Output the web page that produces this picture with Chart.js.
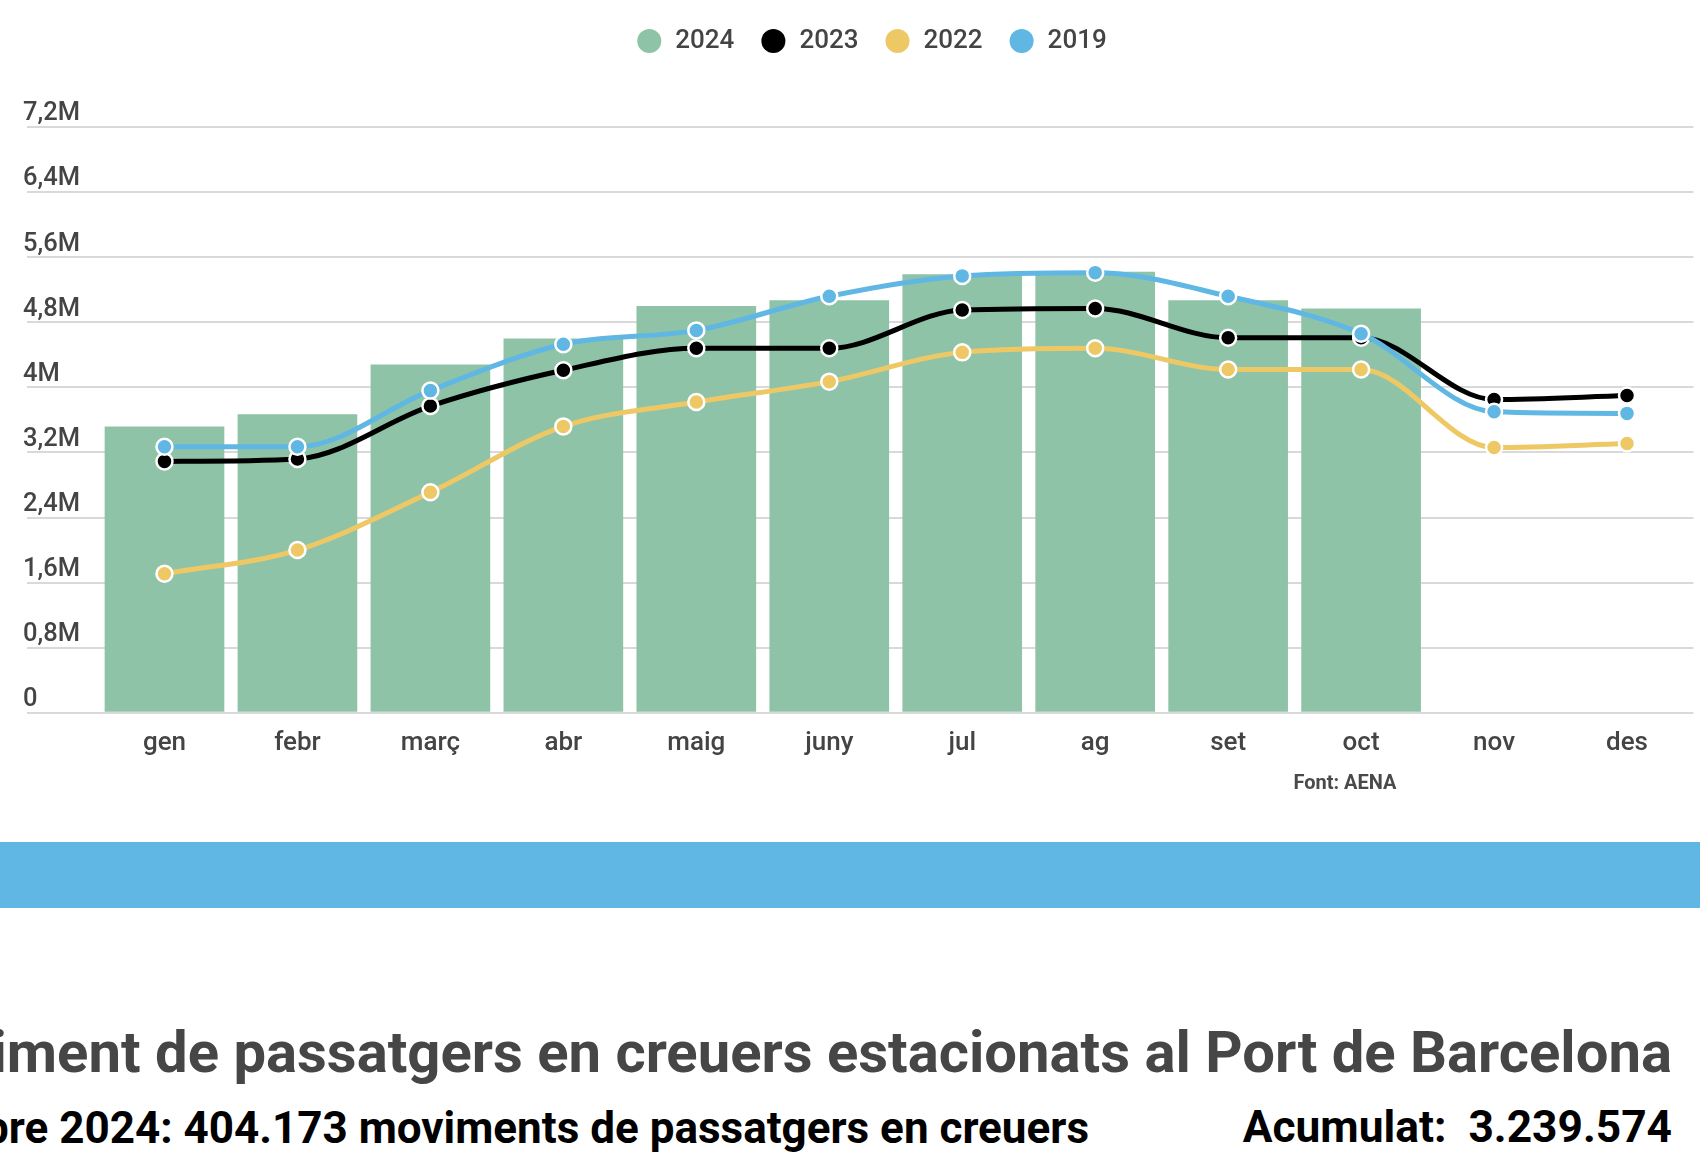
<!DOCTYPE html>
<html>
<head>
<meta charset="utf-8">
<script src="https://cdn.jsdelivr.net/npm/chart.js@4.4.1/dist/chart.umd.min.js"></script>
<style>
html,body{margin:0;padding:0;width:1700px;height:1161px;overflow:hidden;background:#fff;font-family:Roboto,sans-serif}
#wrap{position:absolute;left:0;top:2px;width:1704px;height:772px}
#font{position:absolute;left:1245px;width:200px;top:770px;text-align:center;font:bold 20px Roboto;color:#4a4a4a}
#band{position:absolute;left:0;top:842px;width:1700px;height:66px;background:#60b7e4}
.t{position:absolute;white-space:pre;font-weight:bold;line-height:1}
#title{right:28px;top:1023px;font-size:58px;color:#464646}
#sub{right:611px;top:1106px;font-size:44px;color:#000}
#acum{right:28px;top:1105px;font-size:44.3px;color:#000}
</style>
</head>
<body>
<div id="wrap"><canvas id="c"></canvas></div>
<div id="font">Font: AENA</div>
<div id="band"></div>
<div class="t" id="title">Moviment de passatgers en creuers estacionats al Port de Barcelona</div>
<div class="t" id="sub">Octubre 2024: 404.173 moviments de passatgers en creuers</div>
<div class="t" id="acum">Acumulat:  3.239.574</div>
<script>
/* DATA */
const months=["gen","febr","març","abr","maig","juny","jul","ag","set","oct","nov","des"]
const yTicks=["0","0,8M","1,6M","2,4M","3,2M","4M","4,8M","5,6M","6,4M","7,2M"]
const y2024=[3520000,3670000,4280000,4600000,5000000,5070000,5390000,5420000,5070000,4970000,null,null]
const y2023=[3090000,3120000,3770000,4210000,4480000,4480000,4950000,4970000,4610000,4610000,3850000,3900000]
const y2022=[1710000,2000000,2710000,3520000,3820000,4070000,4430000,4480000,4220000,4220000,3260000,3310000]
const y2019=[3270000,3270000,3960000,4530000,4700000,5120000,5370000,5410000,5120000,4660000,3700000,3680000]

const green="#8fc3a7", black="#000000", yellow="#efc866", blue="#60b7e4"

function line(label,data,color,order){
return {type:'line',label,data,order,
borderColor:color,backgroundColor:color,borderWidth:5,
cubicInterpolationMode:'monotone',
pointRadius:8,pointBorderWidth:2.5,
pointBackgroundColor:color,pointBorderColor:'#fff'}
}

/* legend sits at the very top, a bit right of centre */
const legendShift={id:'legendShift',afterLayout(chart){
let l=chart.legend
let dy=l.top
l.top-=dy; l.bottom-=dy
l.left+=8; l.right+=8
}}

Chart.defaults.font.family="Roboto"

new Chart(document.getElementById("c"),{
type:'bar',
data:{labels:months,datasets:[
{label:"2024",data:y2024,backgroundColor:green,order:10,barPercentage:0.9,categoryPercentage:1},
line("2023",y2023,black,2),
line("2022",y2022,yellow,3),
line("2019",y2019,blue,1)
]},
plugins:[legendShift],
options:{
responsive:true,maintainAspectRatio:false,animation:false,
layout:{padding:{left:23,top:0,right:0,bottom:0}},
plugins:{
tooltip:{enabled:false},
legend:{position:'top',
labels:{usePointStyle:true,pointStyle:'circle',boxHeight:17,padding:26,
color:'#444',font:{size:26,weight:'500'},
sort:(a,b)=>a.datasetIndex-b.datasetIndex,
generateLabels(chart){
let items=Chart.defaults.plugins.legend.labels.generateLabels(chart)
items.forEach(it=>{it.lineWidth=0;it.strokeStyle='rgba(0,0,0,0)'})
return items
}}}
},
scales:{
x:{grid:{display:false,drawTicks:false},border:{display:false},
ticks:{color:'#444',padding:15,font:{size:26,weight:'500'}}},
y:{min:0,max:7200000,
afterFit(s){s.width=75;s.paddingTop=125},
grid:{color:'#d9d9d9',lineWidth:2,tickLength:71},
border:{display:false},
ticks:{stepSize:800000,crossAlign:'far',labelOffset:-13,padding:0,
color:'#444',font:{size:25.5,weight:'500'},
callback:(v,i)=>yTicks[i]}}
}
}
})
</script>
</body>
</html>
